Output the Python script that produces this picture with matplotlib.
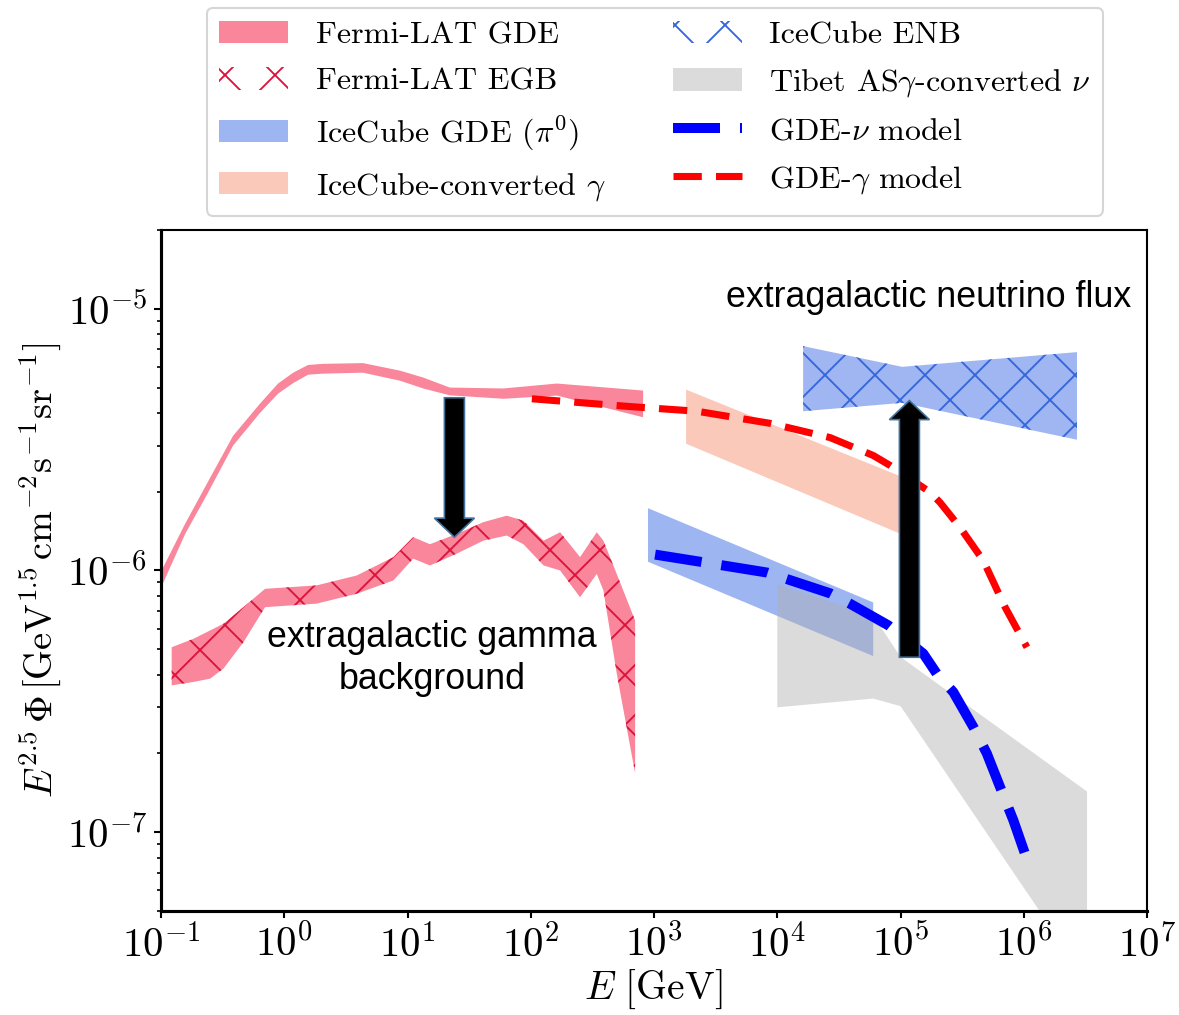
import matplotlib.pyplot as plt
from matplotlib.patches import FancyArrow
from matplotlib.ticker import NullLocator, LogLocator

plt.rcParams['font.family'] = 'serif'
plt.rcParams['font.serif'] = ['cmr10']
plt.rcParams['mathtext.fontset'] = 'cm'
plt.rcParams['axes.formatter.use_mathtext'] = True
plt.rcParams['axes.unicode_minus'] = False
plt.rcParams['hatch.linewidth'] = 0.45

# Fermi-LAT galactic diffuse emission (band)
gde_E = [0.1, 0.157, 0.236, 0.384, 0.635, 0.89, 1.18, 1.56, 2.06, 4.35, 8.7, 13.4, 22, 60,
         163, 815]
gde_lo = [8.6e-7, 1.38e-6, 1.95e-6, 3.0e-6, 4.0e-6, 4.74e-6, 5.2e-6, 5.6e-6, 5.65e-6, 5.7e-6,
          5.31e-6, 4.96e-6, 4.67e-6, 4.53e-6, 4.66e-6, 3.85e-6]
gde_hi = [9.9e-7, 1.51e-6, 2.15e-6, 3.27e-6, 4.34e-6, 5.18e-6, 5.7e-6, 6.1e-6, 6.16e-6, 6.2e-6,
          5.8e-6, 5.46e-6, 5.0e-6, 4.96e-6, 5.18e-6, 4.87e-6]

# Fermi-LAT extragalactic gamma background
egb_E = [0.122, 0.183, 0.25, 0.321, 0.466, 0.698, 1.83, 3.87, 7.68, 11.1, 15.2, 25.1,
         41.2, 63.8, 87.1, 127, 173, 251, 343, 388, 498, 702]
egb_lo = [3.64e-7, 3.75e-7, 3.86e-7, 4.22e-7, 5.32e-7, 7.24e-7, 7.47e-7, 8.15e-7, 9.16e-7,
          1.11e-6, 1.045e-6, 1.16e-6, 1.30e-6, 1.36e-6, 1.26e-6, 1.045e-6, 1.0e-6, 7.9e-7,
          9.7e-7, 8.4e-7, 4.04e-7, 1.68e-7]
egb_hi = [5.09e-7, 5.48e-7, 5.9e-7, 6.26e-7, 7.24e-7, 8.51e-7, 8.77e-7, 9.57e-7, 1.125e-6,
          1.34e-6, 1.26e-6, 1.38e-6, 1.53e-6, 1.62e-6, 1.55e-6, 1.30e-6, 1.40e-6, 1.125e-6,
          1.40e-6, 1.30e-6, 9.7e-7, 6.44e-7]

# IceCube GDE (pi0 template)
icgde_E = [893, 6.0e4]
icgde_lo = [1.08e-6, 4.71e-7]
icgde_hi = [1.73e-6, 7.55e-7]

# IceCube converted to gamma
icgam_E = [1.82e3, 1.0e5]
icgam_lo = [3.05e-6, 1.38e-6]
icgam_hi = [4.91e-6, 2.29e-6]

# IceCube extragalactic neutrino background
enb_E = [1.62e4, 1.03e5, 2.7e6]
enb_lo = [4.06e-6, 4.37e-6, 3.16e-6]
enb_hi = [7.2e-6, 6.0e-6, 6.83e-6]

# Tibet ASgamma converted to neutrinos
tibet_E = [1.0e4, 6.0e4, 1.0e5, 3.26e6]
tibet_lo = [3.0e-7, 3.24e-7, 3.03e-7, 2.7e-8]
tibet_hi = [8.85e-7, 6.73e-7, 4.67e-7, 1.43e-7]

# models
gam_model_E = [102, 638, 2.23e3, 8.73e3, 2.68e4, 6.01e4, 8.22e4, 1.74e5, 2.09e5, 3.04e5,
               4.70e5, 7.05e5, 1.06e6]
gam_model = [4.53e-6, 4.23e-6, 4.06e-6, 3.65e-6, 3.22e-6, 2.75e-6, 2.52e-6, 1.99e-6,
             1.82e-6, 1.46e-6, 1.09e-6, 7.24e-7, 5.09e-7]
nu_model_E = [1.02e3, 2.36e3, 8.26e3, 2.68e4, 3.9e4, 7.96e4, 1.53e5, 1.97e5, 2.68e5,
              3.90e5, 5.01e5, 6.41e5, 8.23e5, 1.02e6]
nu_model = [1.15e-6, 1.08e-6, 9.82e-7, 8.18e-7, 7.46e-7, 6.17e-7, 4.81e-7, 4.03e-7,
            3.43e-7, 2.52e-7, 2.0e-7, 1.49e-7, 1.11e-7, 8.3e-8]

pink = '#F9869B'

fig = plt.figure(figsize=(1179 / 300, 1015 / 300), dpi=300)
ax = fig.add_axes([0.1366, 0.1025, 0.8363, 0.6709])
ax.set_xscale('log')
ax.set_yscale('log')
ax.set_xlim(1e-1, 1e7)
ax.set_ylim(5e-8, 2e-5)

h_gde = ax.fill_between(gde_E, gde_lo, gde_hi, facecolor=pink, lw=0, label='Fermi-LAT GDE')
ax.fill_between(egb_E, egb_lo, egb_hi, facecolor=pink, lw=0)
h_egb = ax.fill_between(egb_E, egb_lo, egb_hi, facecolor='none', edgecolor='crimson',
                        hatch='xx', lw=0, label='Fermi-LAT EGB')
h_icgde = ax.fill_between(icgde_E, icgde_lo, icgde_hi, facecolor='#9DB5F1', lw=0,
                          label=r'IceCube GDE ($\pi^0$)')
h_icgam = ax.fill_between(icgam_E, icgam_lo, icgam_hi, facecolor='#FAC9BA', lw=0,
                          label=r'IceCube-converted $\gamma$')
ax.fill_between(enb_E, enb_lo, enb_hi, facecolor='#9FB6F2', lw=0)
h_enb = ax.fill_between(enb_E, enb_lo, enb_hi, facecolor='none', edgecolor='#3567DC',
                        hatch='xx', lw=0, label='IceCube ENB')
h_tibet = ax.fill_between(tibet_E, tibet_lo, tibet_hi, facecolor='#B0B0B0', alpha=0.45, lw=0,
                          label=r'Tibet AS$\gamma$-converted $\nu$')

h_nu, = ax.plot(nu_model_E, nu_model, color='blue', lw=2.4, dashes=(4.7, 2.0),
                label=r'GDE-$\nu$ model')
h_gam, = ax.plot(gam_model_E, gam_model, color='red', lw=1.7, dashes=(4.0, 2.0),
                 label=r'GDE-$\gamma$ model')


def block_arrow(E, y_from, y_to):
    to_axes = ax.transAxes.inverted()
    x0, y0 = to_axes.transform(ax.transData.transform((E, y_from)))
    _, y1 = to_axes.transform(ax.transData.transform((E, y_to)))
    ax.add_patch(FancyArrow(x0, y0, 0, y1 - y0, width=0.0203, head_width=0.0406,
                            head_length=0.028, length_includes_head=True,
                            transform=ax.transAxes, facecolor='black',
                            edgecolor='#41719C', lw=0.4, zorder=5))


block_arrow(24, 4.57e-6, 1.34e-6)
block_arrow(1.18e5, 4.66e-7, 4.46e-6)

ax.text(15.8, 4.6e-7, 'extragalactic gamma\nbackground', ha='center', va='center',
        fontsize=8.6, family='Liberation Sans', linespacing=1.25, zorder=6)
ax.text(1.7e5, 1.1e-5, 'extragalactic neutrino flux', ha='center', va='center',
        fontsize=8.6, family='Liberation Sans', zorder=6)

ax.set_xlabel(r'$E\ [\mathrm{GeV}]$', fontsize=9.5)
ax.set_ylabel(r'$E^{2.5}\,\Phi\,[\mathrm{GeV}^{1.5}\,\mathrm{cm}^{-2}\mathrm{s}^{-1}\mathrm{sr}^{-1}]$',
              fontsize=9.2)
ax.xaxis.set_label_coords(0.499, -0.0837)
ax.yaxis.set_label_coords(-0.0994, 0.5)

ax.xaxis.set_major_locator(LogLocator(base=10, numticks=20))
ax.xaxis.set_minor_locator(NullLocator())
ax.tick_params(which='major', direction='out', length=1.7, width=0.5, labelsize=9.8, pad=1.6)
ax.tick_params(which='minor', direction='out', length=1.0, width=0.4)
for side in ['left', 'bottom']:
    ax.spines[side].set_linewidth(0.75)
for side in ['top', 'right']:
    ax.spines[side].set_linewidth(0.5)

handles = [h_gde, h_egb, h_icgde, h_icgam, h_enb, h_tibet, h_nu, h_gam]
leg = fig.legend(handles=handles, labels=[h.get_label() for h in handles], ncol=2,
                 loc='upper center', bbox_to_anchor=(655 / 1179, 1 - 8 / 1015),
                 borderaxespad=0, fontsize=7.7, handlelength=2.15, handletextpad=0.85,
                 columnspacing=2.1, labelspacing=0.56)
leg.get_frame().set_linewidth(0.5)

fig.savefig('out.png', dpi=300)
